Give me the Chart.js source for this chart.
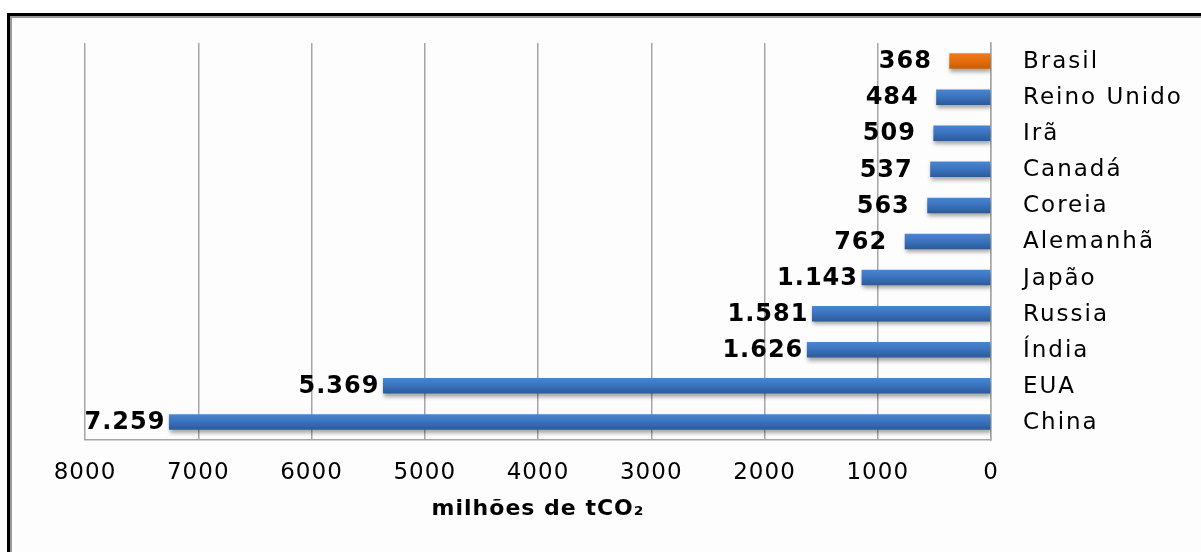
<!DOCTYPE html>
<html>
<head>
<meta charset="utf-8">
<script src="https://cdn.jsdelivr.net/npm/chart.js@4/dist/chart.umd.min.js"></script>
<style>
  body { margin: 0; background: #fff; width: 1201px; height: 552px; overflow: hidden; position: relative; }
  #frame { position: absolute; left: 7px; top: 13px; width: 1400px; height: 800px;
    border-left: 3px solid #000; border-top: 3px solid #000; background: #fdfdfd;
    box-shadow: inset 2px 2px 0 #9a9a9a; }
  #wrap { position: absolute; left: 0; top: 0; width: 1201px; height: 552px; }
</style>
</head>
<body>
<div id="frame"></div>
<div id="wrap"><canvas id="co2Chart"></canvas></div>
<script>
const paises = ["Brasil", "Reino Unido", "Irã", "Canadá", "Coreia", "Alemanhã", "Japão", "Russia", "Índia", "EUA", "China"];
const emissoes = [368, 484, 509, 537, 563, 762, 1143, 1581, 1626, 5369, 7259];
const destaque = "Brasil";
const eixoTitulo = "milhões de tCO\u2082";

function fmt(v) {
  return String(v).replace(/\B(?=(\d{3})+(?!\d))/g, ".");
}

function barFill(c) {
  const orange = paises[c.dataIndex] === destaque;
  const ys = c.chart.scales.y;
  if (!ys || ys.top === undefined) return orange ? '#e36c0a' : '#3a70b8';
  const mid = ys.getPixelForValue(c.dataIndex);
  const g = c.chart.ctx.createLinearGradient(0, mid - 8, 0, mid + 8);
  if (orange) {
    g.addColorStop(0, '#f07c1c'); g.addColorStop(0.5, '#e36c0a'); g.addColorStop(1, '#c85c06');
  } else {
    g.addColorStop(0, '#4a86d2'); g.addColorStop(0.5, '#3a72bd'); g.addColorStop(1, '#2b5996');
  }
  return g;
}

const textPlugin = {
  id: 'textPlugin',
  beforeDraw(chart) {
    chart.ctx.letterSpacing = '1px';
  },
  beforeDatasetsDraw(chart) {
    const ctx = chart.ctx;
    ctx.save();
    ctx.shadowColor = 'rgba(0,0,0,0.35)';
    ctx.shadowOffsetY = 3;
    ctx.shadowOffsetX = 1;
    ctx.shadowBlur = 4;
  },
  afterDatasetsDraw(chart) {
    chart.ctx.restore();
  },
  afterDraw(chart) {
    const ctx = chart.ctx;
    const xs = chart.scales.x, ys = chart.scales.y;
    ctx.save();
    ctx.fillStyle = '#000';
    ctx.textBaseline = 'middle';
    // data labels
    ctx.font = 'bold 24px "DejaVu Sans"';
    ctx.letterSpacing = '1px';
    ctx.textAlign = 'center';
    emissoes.forEach((v, i) => {
      ctx.fillText(fmt(v), xs.getPixelForValue(v) - 44, ys.getPixelForValue(i) + 1);
    });
    // category names on the right
    ctx.font = '23px "DejaVu Sans"';
    ctx.letterSpacing = '2px';
    ctx.textAlign = 'left';
    paises.forEach((p, i) => {
      ctx.fillText(p, chart.chartArea.right + 32, ys.getPixelForValue(i) + 1);
    });
    ctx.restore();
  }
};

new Chart(document.getElementById('co2Chart'), {
  type: 'bar',
  data: {
    labels: paises,
    datasets: [{
      data: emissoes,
      backgroundColor: barFill,
      borderWidth: 0,
      barPercentage: 0.43,
      categoryPercentage: 1
    }]
  },
  options: {
    indexAxis: 'y',
    responsive: true,
    maintainAspectRatio: false,
    animation: false,
    layout: { padding: { left: 85, top: 43, right: 0, bottom: 30 } },
    plugins: { legend: { display: false }, tooltip: { enabled: false } },
    scales: {
      x: {
        reverse: true,
        min: 0, max: 8000,
        ticks: { stepSize: 1000, color: '#000', padding: 19, font: { family: 'DejaVu Sans', size: 23 },
          callback: (v) => String(v) },
        grid: { color: '#a6a6a6', lineWidth: 1.5, drawTicks: false },
        border: { display: true, color: '#a6a6a6', width: 1.5 },
        title: { display: true, text: eixoTitulo, color: '#000', padding: { top: 7, bottom: 0 },
          font: { family: 'DejaVu Sans', size: 22, weight: 'bold' } },
        afterFit: (s) => { s.height = 82; }
      },
      y: {
        position: 'right',
        ticks: { display: false },
        grid: { display: false, drawTicks: false },
        border: { display: true, color: '#a6a6a6', width: 1.5 },
        afterFit: (s) => { s.width = 210; }
      }
    }
  },
  plugins: [textPlugin]
});
</script>
</body>
</html>
